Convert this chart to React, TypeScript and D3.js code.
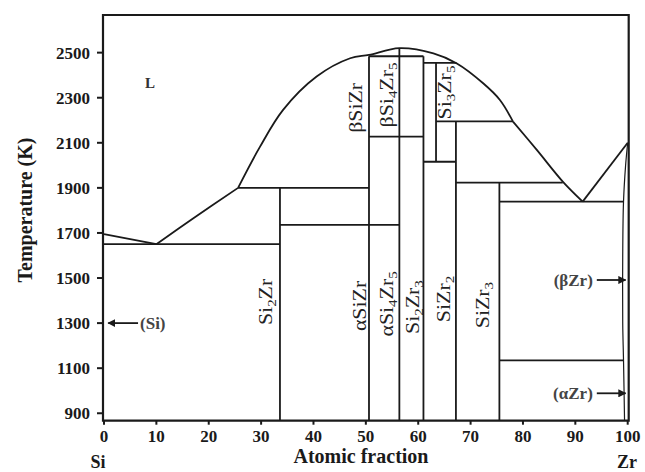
import React from "react";
import * as d3 from "d3";

const W = 645;
const H = 472;

const xTicks = [0, 10, 20, 30, 40, 50, 60, 70, 80, 90, 100];
const yTicks = [900, 1100, 1300, 1500, 1700, 1900, 2100, 2300, 2500];

// Liquidus curves [atomic fraction Zr, T(K)]
const siLiquidus: [number, number][] = [[0, 1695], [10, 1650]];
const riseLiquidus: [number, number][] = [[10, 1650], [17, 1764], [25.6, 1900]];
const domeLiquidus: [number, number][] = [
  [25.6, 1900], [29.8, 2083], [34.2, 2246], [40.6, 2394], [47, 2475],
  [50.6, 2490], [56.4, 2520], [62.9, 2497], [67.3, 2453], [72.4, 2364],
  [75.6, 2290], [78.1, 2194],
];
const fallLiquidus: [number, number][] = [[78.1, 2194], [82.8, 2064], [87.6, 1928], [91.4, 1839]];
const zrLiquidus: [number, number][] = [[91.4, 1839], [100, 2100]];
const zrSolvus: [number, number][] = [
  [100, 2100], [99.6, 2000], [99.2, 1839], [99.05, 1600], [99.05, 1300], [99.2, 1136], [99.4, 867],
];

// Horizontal / vertical phase boundaries: [x1, T1, x2, T2]
const phaseLines: [number, number, number, number][] = [
  [0, 1650, 33.6, 1650],
  [25.6, 1900, 50.6, 1900],
  [33.6, 1736, 56.4, 1736],
  [50.6, 2127, 61.0, 2127],
  [50.6, 2484, 61.0, 2484],
  [61.0, 2455, 67.3, 2455],
  [61.0, 2016, 67.2, 2016],
  [63.4, 2195, 78.1, 2195],
  [67.2, 1923, 87.6, 1923],
  [75.5, 1839, 99.2, 1839],
  [75.5, 1135, 99.2, 1135],
  [33.6, 1900, 33.6, 867],
  [50.6, 2484, 50.6, 867],
  [56.4, 2520, 56.4, 867],
  [61.0, 2484, 61.0, 867],
  [63.4, 2455, 63.4, 2016],
  [67.2, 2195, 67.2, 867],
  [75.5, 1923, 75.5, 867],
];

type Part = [string, boolean];
// rotated phase labels: parts (text, subscript), x, T of baseline centre
const labelParts: Part[][] = [
  [["βSiZr", false]],
  [["βSi", false], ["4", true], ["Zr", false], ["5", true]],
  [["Si", false], ["3", true], ["Zr", false], ["5", true]],
  [["Si", false], ["2", true], ["Zr", false]],
  [["αSiZr", false]],
  [["αSi", false], ["4", true], ["Zr", false], ["5", true]],
  [["Si", false], ["2", true], ["Zr", false], ["3", true]],
  [["SiZr", false], ["2", true]],
  [["SiZr", false], ["3", true]],
];
const labelX = [49.3, 55.1, 66.3, 32.1, 50.1, 55.1, 60.1, 66.1, 73.5];
const labelT = [2255, 2312, 2323, 1394, 1376, 1385, 1371, 1407, 1380];

const arrowLabels = ["(Si)", "(βZr)", "(αZr)"];
const arrowFromX = [6.5, 94.1, 94.1];
const arrowToX = [0.8, 99.6, 99.6];
const arrowT = [1300, 1370, 870];

export default function App() {
  const x = d3.scaleLinear().domain([0, 100]).range([104, 627.7]);
  const y = d3.scaleLinear().domain([867, 2667]).range([420.7, 15]);
  const line = d3.line<[number, number]>().x((d) => x(d[0])).y((d) => y(d[1]));
  const smooth = d3
    .line<[number, number]>()
    .x((d) => x(d[0]))
    .y((d) => y(d[1]))
    .curve(d3.curveCatmullRom.alpha(0.5));

  const ink = "#1a1a1a";
  const serif = "'Liberation Serif', 'Times New Roman', serif";
  const x0 = 103;
  const x1 = 628.7;
  const yTop = 15;
  const yBot = 420.7;

  const arrowY = [y(arrowT[0]), 280, 393.3];

  return (
    <svg width={W} height={H} style={{ position: "absolute", left: 0, top: 0 }}>
      <rect x={0} y={0} width={W} height={H} fill="#fff" />
      <defs>
        <marker id="ah" viewBox="0 0 10 10" refX="9" refY="5" markerWidth="4.5" markerHeight="4.5" orient="auto">
          <path d="M0,0 L10,5 L0,10 z" fill={ink} />
        </marker>
      </defs>
      {/* frame */}
      <path d={`M${x0},${yBot} L${x0},${yTop} L${x1},${yTop} L${x1},${yBot} Z`} fill="none" stroke={ink} strokeWidth={2.2} />
      {/* y ticks */}
      {yTicks.map((t) => (
        <g key={"yt" + t}>
          <line x1={x0 - 6} x2={x0} y1={y(t)} y2={y(t)} stroke={ink} strokeWidth={2} />
          <text x={90} y={y(t)} dy="0.35em" textAnchor="end" fontFamily={serif} fontWeight="bold" fontSize={17} fill={ink}>
            {t}
          </text>
        </g>
      ))}
      {/* x ticks */}
      {xTicks.map((t) => (
        <g key={"xt" + t}>
          <line x1={x(t)} x2={x(t)} y1={yBot} y2={yBot + 4} stroke={ink} strokeWidth={2} />
          <text x={x(t)} y={442} textAnchor="middle" fontFamily={serif} fontWeight="bold" fontSize={17} fill={ink}>
            {t}
          </text>
        </g>
      ))}
      {/* phase boundaries */}
      {phaseLines.map((l, i) => (
        <line key={"pl" + i} x1={x(l[0])} y1={y(l[1])} x2={x(l[2])} y2={y(l[3])} stroke={ink} strokeWidth={1.8} />
      ))}
      <path d={line(siLiquidus) || ""} fill="none" stroke={ink} strokeWidth={1.8} />
      <path d={smooth(riseLiquidus) || ""} fill="none" stroke={ink} strokeWidth={1.8} />
      <path d={smooth(domeLiquidus) || ""} fill="none" stroke={ink} strokeWidth={1.8} />
      <path d={smooth(fallLiquidus) || ""} fill="none" stroke={ink} strokeWidth={1.8} />
      <path d={line(zrLiquidus) || ""} fill="none" stroke={ink} strokeWidth={1.8} />
      <path d={smooth(zrSolvus) || ""} fill="none" stroke={ink} strokeWidth={1.2} />
      {/* phase labels */}
      {labelParts.map((parts, i) => (
        <text
          key={"lb" + i}
          transform={`translate(${x(labelX[i])},${y(labelT[i])}) rotate(-90) scale(1.15,1)`}
          textAnchor="middle"
          fontFamily={serif}
          fontSize={19}
          fill="#222"
        >
          {parts.map((p, j) =>
            p[1] ? (
              <tspan key={j} fontSize={13} dy={4}>{p[0]}</tspan>
            ) : (
              <tspan key={j} dy={j > 0 && parts[j - 1][1] ? -4 : 0}>{p[0]}</tspan>
            )
          )}
        </text>
      ))}
      {/* L */}
      <text x={145} y={87.5} fontFamily={serif} fontWeight="bold" fontSize={15} fill="#333">L</text>
      {/* arrow labels */}
      {arrowLabels.map((s, i) => (
        <g key={"ar" + i}>
          <line x1={x(arrowFromX[i])} x2={x(arrowToX[i])} y1={arrowY[i]} y2={arrowY[i]} stroke={ink} strokeWidth={1.8} markerEnd="url(#ah)" />
          <text
            x={i === 0 ? x(arrowFromX[i]) + 2 : x(arrowFromX[i]) - 4}
            y={arrowY[i]}
            dy="0.35em"
            textAnchor={i === 0 ? "start" : "end"}
            fontFamily={serif}
            fontWeight="bold"
            fontSize={17}
            fill="#444"
          >
            {s}
          </text>
        </g>
      ))}
      {/* axis titles */}
      <text transform={`translate(32,210) rotate(-90)`} textAnchor="middle" fontFamily={serif} fontWeight="bold" fontSize={20} fill={ink}>
        Temperature (K)
      </text>
      <text x={361} y={463} textAnchor="middle" fontFamily={serif} fontWeight="bold" fontSize={20} fill={ink}>
        Atomic fraction
      </text>
      <text x={98} y={468} textAnchor="middle" fontFamily={serif} fontWeight="bold" fontSize={18} fill={ink}>Si</text>
      <text x={627} y={468} textAnchor="middle" fontFamily={serif} fontWeight="bold" fontSize={18} fill={ink}>Zr</text>
    </svg>
  );
}
